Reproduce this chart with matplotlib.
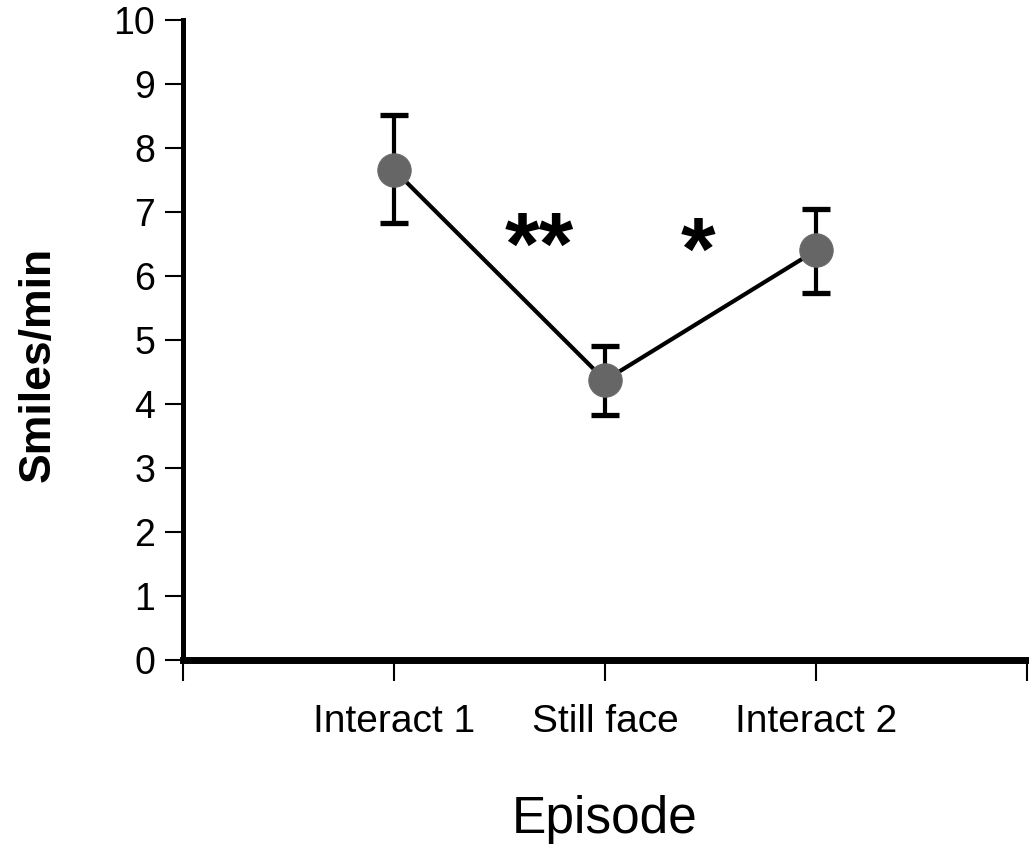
import matplotlib
matplotlib.use("Agg")
import matplotlib.pyplot as plt

plt.rcParams['font.family'] = ['Liberation Sans', 'DejaVu Sans']

# Mean smiles per minute for each episode, with error bar extents
episodes = ["Interact 1", "Still face", "Interact 2"]
smiles_mean = [7.66, 4.37, 6.40]
err_upper = [8.51, 4.90, 7.05]
err_lower = [6.83, 3.83, 5.74]

# Significance markers between episodes (baseline positions in data units)
sig_labels = ["**", "*"]
sig_x = [1.687, 2.44]
sig_y = [6.04, 5.96]

W, H = 1029, 846
fig = plt.figure(figsize=(W / 100, H / 100), dpi=100)
ax = fig.add_axes([183 / W, 1 - 660 / H, (1027 - 183) / W, 640 / H])

x = [1, 2, 3]
yerr = [[m - lo for m, lo in zip(smiles_mean, err_lower)],
        [hi - m for m, hi in zip(smiles_mean, err_upper)]]

ax.errorbar(x, smiles_mean, yerr=yerr, fmt='none', ecolor='black',
            elinewidth=3.0, capsize=10, capthick=3.8, zorder=2)
ax.plot(x, smiles_mean, color='black', lw=3.0, zorder=3)
ax.plot(x, smiles_mean, 'o', ms=24, color='#666666', mec='#6a6a6a',
        mew=0.8, zorder=4)

for lab, sx, sy in zip(sig_labels, sig_x, sig_y):
    ax.text(sx, sy, lab, ha='center', va='baseline', fontsize=64,
            fontweight='bold')

ax.set_xlim(0, 4)
ax.set_ylim(0, 10)
ax.set_xticks([0, 1, 2, 3, 4])
ax.set_xticklabels([""] + episodes + [""])
ax.set_yticks(range(0, 11))

for s in ('top', 'right'):
    ax.spines[s].set_visible(False)
ax.spines['left'].set_linewidth(3.6)
ax.spines['bottom'].set_linewidth(5.0)

ax.tick_params(axis='y', direction='out', length=13, width=1.5,
               labelsize=27, pad=7)
ax.tick_params(axis='x', direction='out', length=15, width=1.5,
               labelsize=28, pad=17)

ax.set_xlabel("Episode", fontsize=37, labelpad=39)
ax.set_ylabel("Smiles/min", fontsize=32, fontweight='bold', va='center')
ax.yaxis.set_label_coords(-0.171, 0.4625)

fig.savefig("out.png", dpi=100)
